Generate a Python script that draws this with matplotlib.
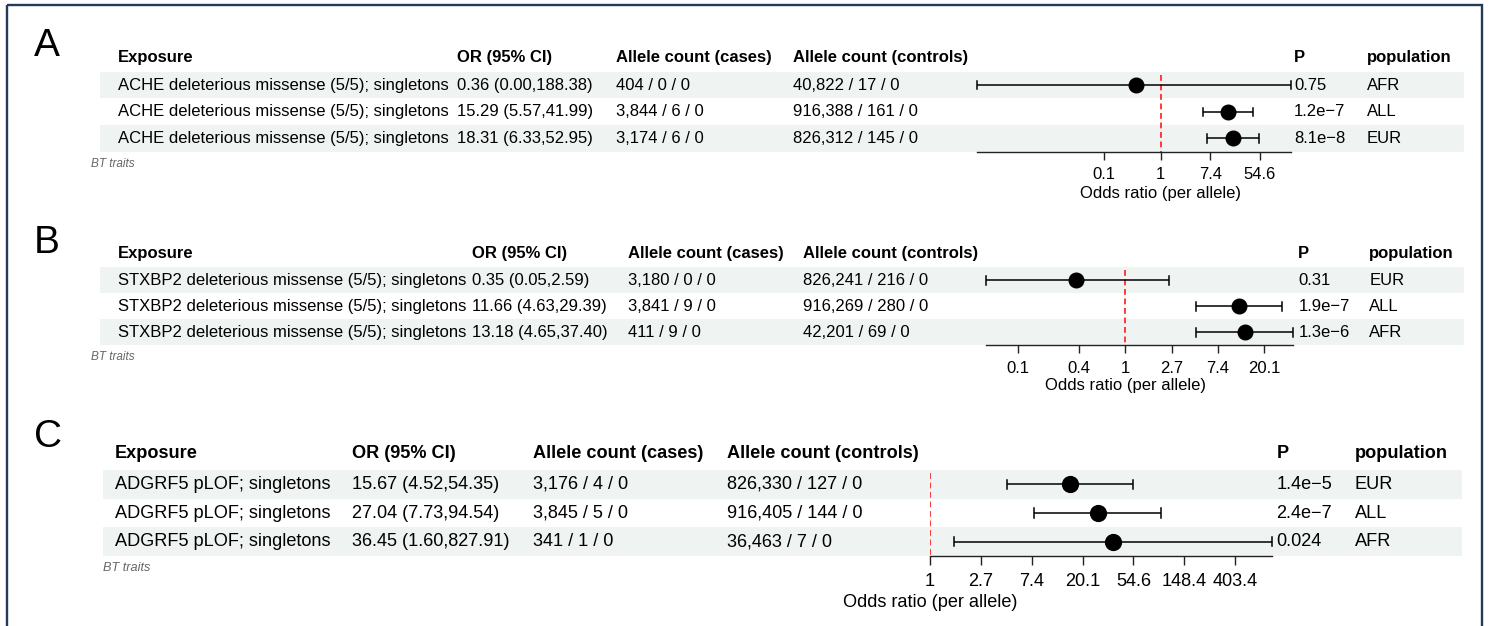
import numpy as np
import matplotlib
matplotlib.use("Agg")
import matplotlib.pyplot as plt
from matplotlib.patches import Rectangle

plt.rcParams["font.family"] = ["Liberation Sans", "DejaVu Sans"]

W, H = 1489, 626

headers = ["Exposure", "OR (95% CI)", "Allele count (cases)",
           "Allele count (controls)", "P", "population"]

# --- panel A: ACHE ---
exposure_a = ["ACHE deleterious missense (5/5); singletons"] * 3
or_a = [0.36, 15.29, 18.31]
lo_a = [0.0006, 5.57, 6.33]
hi_a = [188.38, 41.99, 52.95]
cases_a = [(404, 0, 0), (3844, 6, 0), (3174, 6, 0)]
controls_a = [(40822, 17, 0), (916388, 161, 0), (826312, 145, 0)]
p_a = [0.75, 1.2e-7, 8.1e-8]
pop_a = ["AFR", "ALL", "EUR"]
ticks_a = [0.1, 1, 7.389, 54.598]

# --- panel B: STXBP2 ---
exposure_b = ["STXBP2 deleterious missense (5/5); singletons"] * 3
or_b = [0.35, 11.66, 13.18]
lo_b = [0.05, 4.63, 4.65]
hi_b = [2.59, 29.39, 37.40]
cases_b = [(3180, 0, 0), (3841, 9, 0), (411, 9, 0)]
controls_b = [(826241, 216, 0), (916269, 280, 0), (42201, 69, 0)]
p_b = [0.31, 1.9e-7, 1.3e-6]
pop_b = ["EUR", "ALL", "AFR"]
ticks_b = [0.1, 0.368, 1, 2.718, 7.389, 20.086]

# --- panel C: ADGRF5 ---
exposure_c = ["ADGRF5 pLOF; singletons"] * 3
or_c = [15.67, 27.04, 36.45]
lo_c = [4.52, 7.73, 1.60]
hi_c = [54.35, 94.54, 827.91]
cases_c = [(3176, 4, 0), (3845, 5, 0), (341, 1, 0)]
controls_c = [(826330, 127, 0), (916405, 144, 0), (36463, 7, 0)]
p_c = [1.4e-5, 2.4e-7, 0.024]
pop_c = ["EUR", "ALL", "AFR"]
ticks_c = [1, 2.718, 7.389, 20.086, 54.598, 148.413, 403.429]

STRIPE = "#eff3f2"
FRAME = "#26395a"


def fmt_counts(t):
    return " / ".join(f"{v:,}" for v in t)


def fmt_p(p):
    if p < 1e-3:
        mant, ex = f"{p:.1e}".split("e")
        return f"{mant}e\u2212{int(ex[1:])}"
    return f"{p:.2g}"


def fmt_tick(v):
    s = f"{v:.1f}"
    return s[:-2] if s.endswith(".0") else s


def draw_panel(fig, ov, lay, exposure, orv, lo, hi, cases, controls, pvals, pops, ticks):
    s = lay["scale"]
    fs = 12 * s
    n = len(orv)
    top, rh = lay["row_top"], lay["row_h"]
    rows_y = [top + (i + 0.5) * rh for i in range(n)]

    # striped rows
    bx0, bx1 = lay["band"]
    for i in range(0, n, 2):
        ov.add_patch(Rectangle((bx0, top + i * rh), bx1 - bx0, rh,
                               facecolor=STRIPE, edgecolor="none", zorder=0))

    ov.text(lay["letter_xy"][0], lay["letter_xy"][1], lay["letter"],
            fontsize=28, ha="left", va="center")

    xs = lay["cols"] + [lay["p_x"], lay["pop_x"]]
    for x, h in zip(xs, headers):
        ov.text(x, lay["header_y"], h, fontsize=fs, fontweight="bold",
                ha="left", va="center")
    for i in range(n):
        cells = [exposure[i],
                 f"{orv[i]:.2f} ({lo[i]:.2f},{hi[i]:.2f})",
                 fmt_counts(cases[i]), fmt_counts(controls[i]),
                 fmt_p(pvals[i]), pops[i]]
        for x, c in zip(xs, cells):
            ov.text(x, rows_y[i], c, fontsize=fs, ha="left", va="center")

    ov.text(lay["caption_xy"][0], lay["caption_xy"][1], "BT traits",
            fontsize=8.5 * s, style="italic", color="#666666",
            ha="left", va="center")

    # forest column
    x0, x1 = lay["plot_x"]
    bottom = top + n * rh
    ax = fig.add_axes([x0 / W, 1 - bottom / H, (x1 - x0) / W, n * rh / H])
    ax.patch.set_visible(False)
    xmin, xmax = min(min(lo), 1), max(max(hi), 1)
    ax.set_xscale("log")
    ax.set_xlim(xmin, xmax)
    ax.set_ylim(n, 0)
    for side in ("top", "left", "right"):
        ax.spines[side].set_visible(False)
    ax.spines["bottom"].set_linewidth(1.0)
    ax.spines["bottom"].set_color("#222222")
    ax.set_yticks([])
    ax.set_xticks(ticks)
    ax.set_xticklabels([fmt_tick(t) for t in ticks])
    ax.minorticks_off()
    ax.tick_params(axis="x", direction="out", length=6 * s, width=1.0,
                   color="#222222", pad=5 * s, labelsize=fs)

    ax.plot([1, 1], [0.12, n], color="#ff1a1a", lw=1.2,
            linestyle=(0, (3.5, 2.2)), zorder=1)
    cap = 4.2 * s / rh
    for i in range(n):
        yc = i + 0.5
        ax.plot([lo[i], hi[i]], [yc, yc], color="black", lw=1.1,
                solid_capstyle="butt", clip_on=False, zorder=2)
        for e in (lo[i], hi[i]):
            ax.plot([e, e], [yc - cap, yc + cap], color="black", lw=1.1,
                    clip_on=False, zorder=2)
        ax.plot(orv[i], yc, "o", color="black", ms=10.5 * s,
                clip_on=False, zorder=3)

    # axis title centred on the null line
    frac = (np.log(1) - np.log(xmin)) / (np.log(xmax) - np.log(xmin))
    ov.text(x0 + frac * (x1 - x0), lay["title_y"], "Odds ratio (per allele)",
            fontsize=fs, ha="center", va="center")


layout_a = dict(letter="A", letter_xy=(34, 46), scale=1.0, header_y=57.5,
                row_top=71.7, row_h=26.7, cols=[118, 457, 616, 793],
                plot_x=(977, 1290.7), p_x=1294, pop_x=1367, band=(100, 1464),
                caption_xy=(91, 164), title_y=193.8)
layout_b = dict(letter="B", letter_xy=(34, 243), scale=1.0, header_y=253.3,
                row_top=267.3, row_h=26.0, cols=[118, 472.5, 628.3, 802.7],
                plot_x=(986, 1293.3), p_x=1298.3, pop_x=1369.3, band=(100, 1464),
                caption_xy=(91, 357), title_y=385.5)
layout_c = dict(letter="C", letter_xy=(34, 437), scale=1.085, header_y=453.3,
                row_top=470, row_h=28.7, cols=[115, 351.5, 533.3, 726.7],
                plot_x=(930, 1271.7), p_x=1276.5, pop_x=1355, band=(102.7, 1462),
                caption_xy=(102.7, 568), title_y=602.2)

fig = plt.figure(figsize=(W / 100, H / 100), dpi=100, facecolor="white")
ov = fig.add_axes([0, 0, 1, 1])
ov.set_xlim(0, W)
ov.set_ylim(H, 0)
ov.axis("off")

ov.add_patch(Rectangle((7, 5), 1475, 700, facecolor="none", edgecolor=FRAME,
                       lw=1.7, clip_on=False))

draw_panel(fig, ov, layout_a, exposure_a, or_a, lo_a, hi_a, cases_a,
           controls_a, p_a, pop_a, ticks_a)
draw_panel(fig, ov, layout_b, exposure_b, or_b, lo_b, hi_b, cases_b,
           controls_b, p_b, pop_b, ticks_b)
draw_panel(fig, ov, layout_c, exposure_c, or_c, lo_c, hi_c, cases_c,
           controls_c, p_c, pop_c, ticks_c)

fig.savefig("out.png", dpi=100)
